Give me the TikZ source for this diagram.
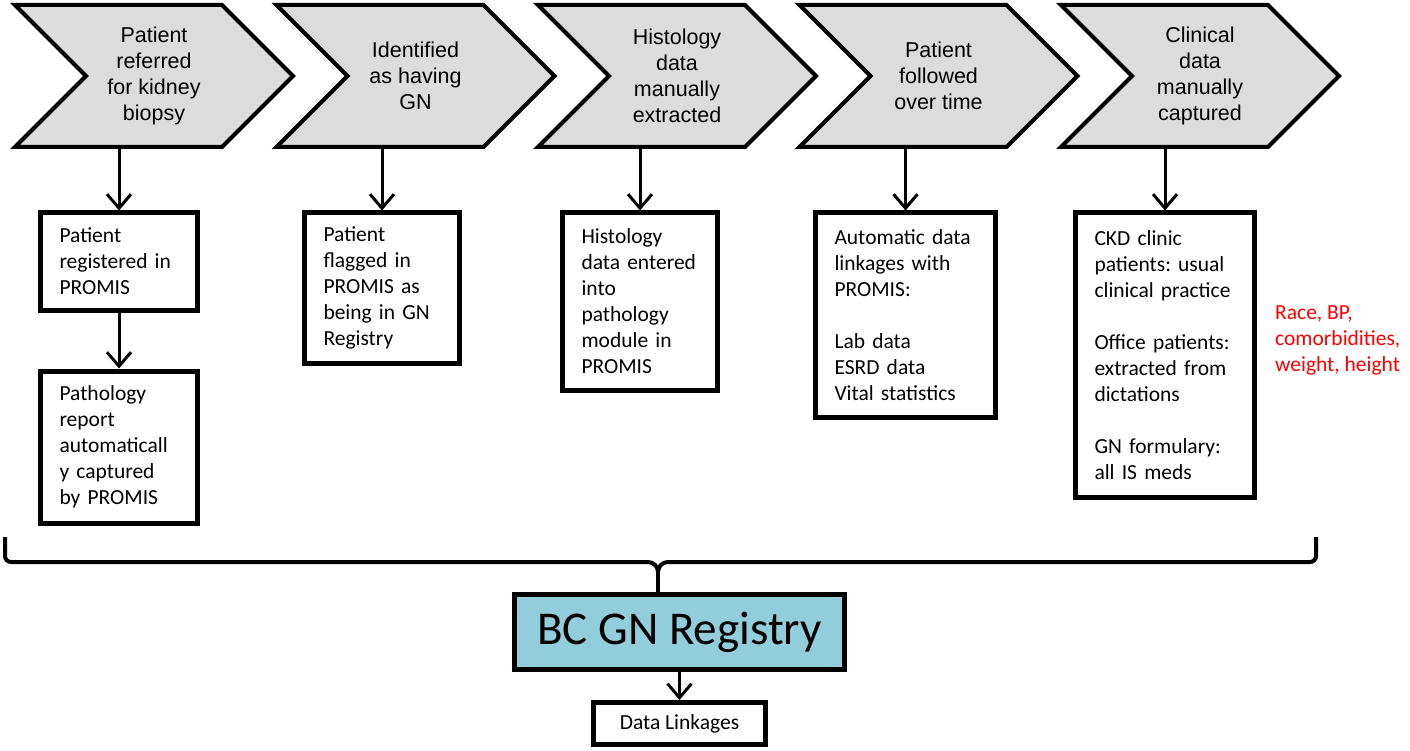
\documentclass[tikz,border=0pt]{standalone}
\usepackage{fontspec}
\setmainfont{Carlito}
\newfontfamily\arialfont{Liberation Sans}
\usepackage{xcolor}
\usepackage{tikz}
\usetikzlibrary{arrows.meta, positioning, shapes.symbols}
\definecolor{chevgray}{RGB}{220,220,220}
\definecolor{regblue}{RGB}{146,205,220}
\frenchspacing

\begin{document}
\begin{tikzpicture}[
          x=1pt, y=-1pt,
          every node/.style={align=center},
          chev/.style={signal, signal from=west, signal to=east,
            signal pointer angle=90, draw, line width=4pt, fill=chevgray,
            minimum width=278pt, minimum height=142pt, inner sep=0pt,
            font=\arialfont\fontsize{21.5}{26}\selectfont},
          infobox/.style={draw, line width=5pt, anchor=north, align=left,
            inner xsep=19pt, inner ysep=0pt,
            font=\fontsize{21.5}{26}\selectfont},
          arrow/.style={-{Straight Barb[length=14pt,width=24pt]}, line width=3pt},
          brace/.style={line width=4pt}
        ]
          \useasboundingbox (0,0) rectangle (1410,751);

          % Steps along the top
          \node[chev] (step1) at (154,76) {Patient\\referred\\for kidney\\biopsy};
          \node[chev] (step2) at (415.5,76) {Identified\\as having\\GN};
          \node[chev] (step3) at (677,76) {Histology\\data\\manually\\extracted};
          \node[chev] (step4) at (938.5,76) {Patient\\followed\\over time};
          \node[chev] (step5) at (1200,76) {Clinical\\data\\manually\\captured};

          % Boxes below the steps
          \node[infobox, text width=119pt, minimum height=97pt] (reg) at (119,210.5)
            {Patient\\registered in\\PROMIS};
          \node[infobox, text width=119pt, minimum height=152pt] (path) at (119,368.5)
            {Pathology\\report\\automaticall\\y captured\\by PROMIS};
          \node[infobox, text width=117pt, minimum height=150pt] (flag) at (382,210.5)
            {Patient\\flagged in\\PROMIS as\\being in GN\\Registry};
          \node[infobox, text width=117pt, minimum height=177pt] (histo) at (640,210.5)
            {Histology\\data entered\\into\\pathology\\module in\\PROMIS};
          \node[infobox, text width=142pt, minimum height=204pt] (link) at (905.5,210.5)
            {Automatic data\\linkages with\\PROMIS:\\[26pt]Lab data\\ESRD data\\Vital statistics};
          \node[infobox, text width=141pt, minimum height=284pt] (clin) at (1165,210.5)
            {CKD clinic\\patients: usual\\clinical practice\\[26pt]Office patients:\\extracted from\\dictations\\[26pt]GN formulary:\\all IS meds};

          % Note in red
          \node[anchor=west, align=left, text=red, inner sep=0pt,
            font=\fontsize{21.5}{26}\selectfont] (vars) at (1275,340)
            {Race, BP,\\comorbidities,\\weight, height};

          % Registry at the bottom
          \node[draw, line width=5pt, fill=regblue, minimum width=330pt,
            minimum height=75pt, font=\fontsize{47}{50}\selectfont] (gnreg) at (679.5,632)
            {BC GN Registry};
          \node[draw, line width=5pt, minimum width=172pt, minimum height=42pt,
            font=\fontsize{21.5}{26}\selectfont] (links) at (679.5,723.5)
            {Data Linkages};

          % Arrows
          \draw[arrow] (reg.north |- step1.south) -- (reg.north);
          \draw[arrow] (reg.south) -- (path.north);
          \draw[arrow] (flag.north |- step2.south) -- (flag.north);
          \draw[arrow] (histo.north |- step3.south) -- (histo.north);
          \draw[arrow] (link.north |- step4.south) -- (link.north);
          \draw[arrow] (clin.north |- step5.south) -- (clin.north);
          \draw[arrow] (gnreg.south) -- (links.north);

          % Brace
          \coordinate (cusp) at (658,572);
          \draw[brace] (5,537) -- (5,556) to[out=-90,in=180] (11,562) -- (648,562)
            to[out=0,in=90] (cusp) to[out=90,in=180] (668,562) -- (1310,562)
            to[out=0,in=-90] (1316,556) -- (1316,537);
          \draw[brace] (cusp) -- (cusp |- gnreg.north);
        \end{tikzpicture}
\end{document}
